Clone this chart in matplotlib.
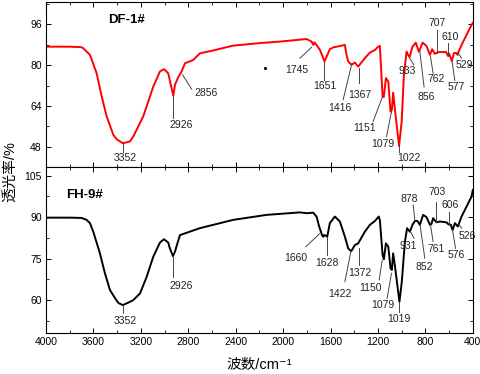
import numpy as np
import matplotlib.pyplot as plt

plt.rcParams['font.family'] = ['Liberation Sans', 'Noto Sans CJK SC', 'DejaVu Sans']

# FTIR spectra (wavenumber cm-1, transmittance %)
df1_wn = [4000, 3800, 3700, 3686, 3629, 3573, 3530, 3488, 3432, 3404, 3352, 3292, 3264,
          3180, 3095, 3039, 3005, 2969, 2941, 2926, 2912, 2884, 2856, 2828, 2758, 2702,
          2592, 2423, 2200, 2027, 1802, 1760, 1745, 1735, 1690, 1651, 1606, 1578, 1479,
          1465, 1451, 1423, 1416, 1395, 1367, 1311, 1268, 1226, 1198, 1184, 1161, 1151,
          1133, 1113, 1094, 1083, 1072, 1058, 1022, 1000, 982, 959, 945, 933, 909, 881,
          856, 853, 824, 791, 762, 743, 720, 707, 692, 625, 610, 600, 577, 560, 537, 529,
          520, 495, 453, 411, 400]
df1_t = [87.2, 87.2, 87.0, 86.6, 84.0, 76.8, 67.7, 59.9, 52.7, 51.0, 49.4, 50.1, 52.0,
         59.9, 71.6, 77.5, 78.4, 76.8, 71.0, 68.0, 72.3, 75.3, 77.5, 80.7, 82.0, 84.6,
         85.7, 87.6, 88.6, 89.2, 90.2, 89.2, 87.9, 88.9, 86.0, 81.4, 86.2, 86.9, 87.9,
         84.0, 81.4, 80.1, 80.3, 81.0, 79.4, 82.7, 84.9, 85.9, 87.2, 87.5, 67.7, 67.5,
         74.9, 73.6, 61.8, 62.4, 69.2, 63.0, 48.3, 58.0, 75.5, 85.3, 83.9, 83.1, 87.2,
         88.8, 85.3, 85.3, 88.8, 87.5, 84.0, 86.2, 84.4, 84.7, 85.1, 85.1, 83.6, 84.5,
         81.6, 84.7, 84.7, 84.0, 85.2, 87.9, 91.8, 95.7, 96.5]

fh9_wn = [4000, 3800, 3700, 3657, 3629, 3601, 3545, 3503, 3460, 3404, 3387, 3352, 3300,
          3264, 3207, 3151, 3095, 3039, 3005, 2969, 2955, 2929, 2912, 2898, 2870, 2702,
          2421, 2140, 1858, 1800, 1746, 1718, 1696, 1670, 1660, 1655, 1634, 1628, 1606,
          1564, 1521, 1479, 1451, 1428, 1422, 1395, 1367, 1311, 1268, 1226, 1193, 1184,
          1161, 1150, 1133, 1113, 1094, 1083, 1072, 1058, 1019, 999, 973, 954, 931, 909,
          889, 867, 847, 819, 791, 761, 749, 735, 707, 678, 622, 606, 585, 571, 551,
          526, 495, 453, 411, 400]
fh9_t = [89.8, 89.8, 89.7, 89.0, 87.8, 84.7, 76.9, 69.7, 63.6, 59.8, 58.9, 58.2, 59.2,
         60.0, 62.4, 68.4, 75.7, 80.8, 82.0, 80.8, 78.7, 75.9, 77.5, 79.6, 83.5, 86.0,
         89.0, 90.8, 91.7, 91.4, 91.6, 90.2, 86.6, 83.3, 82.9, 83.5, 83.2, 82.9, 87.8,
         90.2, 88.4, 82.9, 78.7, 77.7, 77.9, 79.9, 80.5, 84.7, 87.2, 88.6, 90.2, 88.9,
         76.3, 74.8, 80.5, 79.3, 71.5, 70.9, 76.9, 72.7, 59.4, 66.6, 81.1, 86.0, 84.7,
         87.2, 88.6, 88.6, 87.2, 90.8, 90.0, 87.2, 87.5, 89.6, 88.1, 88.4, 88.1, 87.4,
         87.2, 85.3, 87.8, 86.6, 90.2, 93.8, 97.4, 99.8]

# peak labels: text, leader start (x, y), leader end (x, y), text centre (x, y)
df1_peaks = [
    ("3352", 3352, 49.4, 3352, 46.0, 3334, 43.6),
    ("2926", 2926, 68.0, 2926, 59.3, 2864, 56.6),
    ("2856", 2848, 76.2, 2772, 70.6, 2650, 69.2),
    ("1745", 1760, 87.0, 1858, 82.7, 1886, 78.1),
    ("1651", 1651, 81.4, 1651, 74.2, 1648, 71.9),
    ("1416", 1423, 80.1, 1494, 66.4, 1521, 63.1),
    ("1367", 1358, 78.9, 1358, 72.9, 1353, 68.3),
    ("1151", 1161, 67.7, 1241, 57.9, 1311, 55.3),
    ("1079", 1086, 61.8, 1128, 52.0, 1156, 49.2),
    ("1022", 1024, 48.3, 1024, 46.0, 937, 43.6),
    ("933", 932, 82.7, 898, 80.1, 954, 77.5),
    ("856", 847, 85.3, 811, 71.4, 791, 67.7),
    ("762", 757, 83.3, 735, 76.8, 707, 74.5),
    ("707", 706, 84.7, 706, 93.8, 698, 96.6),
    ("610", 608, 83.6, 608, 88.8, 594, 90.9),
    ("577", 575, 81.4, 552, 74.0, 537, 71.4),
    ("529", 524, 84.7, 495, 82.7, 470, 80.1),
]
fh9_peaks = [
    ("3352", 3352, 58.2, 3352, 55.2, 3334, 52.5),
    ("2926", 2929, 75.9, 2929, 68.4, 2864, 65.1),
    ("1660", 1690, 84.1, 1808, 79.3, 1892, 75.3),
    ("1628", 1634, 82.9, 1634, 76.3, 1634, 73.5),
    ("1422", 1428, 77.7, 1479, 66.6, 1521, 62.1),
    ("1372", 1358, 78.7, 1358, 72.7, 1353, 69.9),
    ("1150", 1164, 74.5, 1190, 67.3, 1263, 64.2),
    ("1079", 1086, 69.7, 1123, 60.6, 1161, 58.4),
    ("1019", 1021, 59.4, 1021, 55.8, 1021, 53.0),
    ("931", 926, 84.7, 895, 82.3, 945, 79.6),
    ("878", 889, 88.8, 903, 94.4, 937, 96.4),
    ("852", 845, 87.2, 805, 75.1, 813, 71.8),
    ("761", 757, 87.2, 735, 81.1, 707, 78.4),
    ("703", 707, 88.1, 707, 95.4, 698, 99.2),
    ("606", 604, 87.4, 604, 92.0, 594, 94.4),
    ("576", 571, 85.3, 546, 78.7, 537, 76.3),
    ("526", 518, 87.4, 495, 86.0, 445, 83.3),
]

fig = plt.figure(figsize=(4.81, 3.74), dpi=100)
ax1 = fig.add_axes([0.0956, 0.5527, 0.8874, 0.4420])
ax2 = fig.add_axes([0.0956, 0.1088, 0.8874, 0.4439])


def draw_panel(ax, wn, t, peaks, color, name, name_xy, ylim, yticks):
    ax.plot(wn, t, color=color, lw=1.4)
    for lab, x0, y0, x1, y1, tx, ty in peaks:
        ax.plot([x0, x1], [y0, y1], color='#444444', lw=0.7)
        ax.text(tx, ty, lab, fontsize=7.5, ha='center', va='center', color='#222222')
    ax.text(name_xy[0], name_xy[1], name, transform=ax.transAxes,
            fontsize=9.5, fontweight='bold', va='center')
    ax.set_xlim(4000, 400)
    ax.set_ylim(*ylim)
    ax.set_yticks(yticks)
    ax.set_xticks(np.arange(4000, 399, -400))
    ax.set_xticks(np.arange(4000, 399, -200), minor=True)
    step = (yticks[1] - yticks[0]) / 2
    ax.set_yticks(np.arange(yticks[0] - step, ylim[1], step), minor=True)
    ax.tick_params(which='both', direction='in', top=True, right=True, labelsize=7.5, pad=3)
    ax.tick_params(which='major', length=3.5, width=0.7)
    ax.tick_params(which='minor', length=2, width=0.6)
    for s in ax.spines.values():
        s.set_linewidth(0.8)


draw_panel(ax1, df1_wn, df1_t, df1_peaks, 'red', 'DF-1#', (0.1445, 0.891),
           (40, 104.7), [48, 64, 80, 96])
ax1.plot([2154], [78.9], 'k.', ms=2.5)
ax1.tick_params(labelbottom=False)

draw_panel(ax2, fh9_wn, fh9_t, fh9_peaks, 'black', 'FH-9#', (0.047, 0.833),
           (48, 108), [60, 75, 90, 105])

fig.text(0.538, 0.024, '波数/cm⁻¹', fontsize=10.5, ha='center', va='center')
fig.text(0.021, 0.541, '透光率/%', rotation=90, fontsize=10.5, ha='center', va='center')

fig.savefig('out.png', dpi=100)
